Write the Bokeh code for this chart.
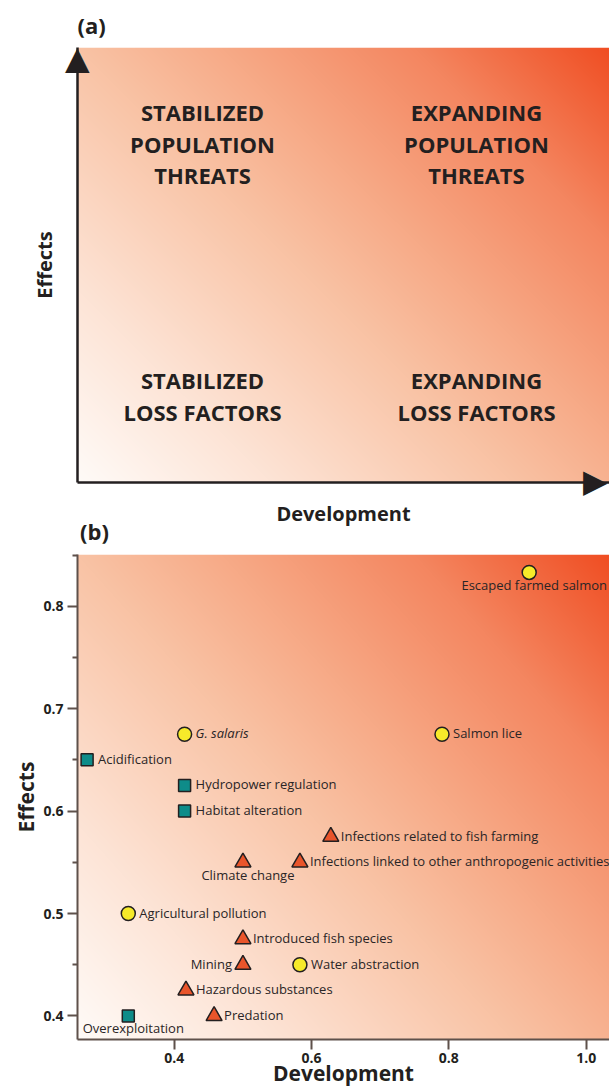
import numpy as np
from bokeh.plotting import figure
from bokeh.models import ColumnDataSource, Range1d, FixedTicker, LinearAxis
from bokeh.layouts import column
from bokeh.embed import file_html
from bokeh.resources import INLINE
from bokeh.core.properties import value

# ---------------- data (panel b) ----------------
threats = ["Escaped farmed salmon", "Salmon lice", "G. salaris", "Acidification",
           "Hydropower regulation", "Habitat alteration", "Infections related to fish farming",
           "Infections linked to other anthropogenic activities", "Climate change",
           "Agricultural pollution", "Introduced fish species", "Mining", "Water abstraction",
           "Hazardous substances", "Predation", "Overexploitation"]
development = [0.917, 0.790, 0.415, 0.273, 0.415, 0.415, 0.628, 0.583, 0.500,
               0.333, 0.500, 0.500, 0.583, 0.417, 0.458, 0.333]
effects = [0.833, 0.675, 0.675, 0.650, 0.625, 0.600, 0.575, 0.550, 0.550,
           0.500, 0.475, 0.450, 0.450, 0.425, 0.400, 0.400]
group = ["circle", "circle", "circle", "square", "square", "square", "triangle", "triangle",
         "triangle", "circle", "triangle", "triangle", "circle", "triangle", "triangle", "square"]
label_side = ["below", "right", "right", "right", "right", "right", "right", "right", "below",
              "right", "right", "left", "right", "right", "right", "below"]
italic_names = ["G. salaris"]

x_ticks = [0.4, 0.6, 0.8, 1.0]
x_tick_labels = ["0.4", "0.6", "0.8", "1.0"]
y_ticks = [0.4, 0.5, 0.6, 0.7, 0.8]
y_tick_labels = ["0.4", "0.5", "0.6", "0.7", "0.8"]
y_minor_ticks = [0.45, 0.55, 0.65, 0.75, 0.85]

# ---------------- texts (panel a) ----------------
quad_top_left = ["STABILIZED", "POPULATION", "THREATS"]
quad_top_right = ["EXPANDING", "POPULATION", "THREATS"]
quad_bottom_left = ["STABILIZED", "LOSS FACTORS"]
quad_bottom_right = ["EXPANDING", "LOSS FACTORS"]

INK = "#231f20"
AXIS = "#5e514b"
FONT = "Open Sans"
marker_fill = {"circle": "#f6ea2a", "square": "#0e8c89", "triangle": "#e9552b"}
marker_size = {"circle": 14, "square": 12, "triangle": 16}

# background gradient colour stops (white -> vermilion)
stop_t = [0.0, 0.2, 0.45, 0.6, 0.8, 1.0]
stop_rgb = [(255, 251, 248), (253, 228, 214), (249, 195, 165),
            (247, 170, 135), (244, 134, 96), (240, 78, 35)]


def gradient_rgba(nx, ny, wx=0.55):
    u = np.linspace(0, 1, nx)[None, :]
    v = np.linspace(0, 1, ny)[:, None]
    t = wx * u + (1 - wx) * v
    img = np.empty((ny, nx, 4), dtype=np.uint8)
    arr = np.array(stop_rgb, float)
    for c in range(3):
        img[..., c] = np.clip(np.interp(t, stop_t, arr[:, c]), 0, 255).astype(np.uint8)
    img[..., 3] = 255
    return img.view(np.uint32).reshape(ny, nx)


# ================= panel (a) =================
pa = figure(width=609, height=554, output_backend="svg", toolbar_location=None,
            x_range=Range1d(0, 1), y_range=Range1d(0, 1))
pa.min_border_left = 77
pa.min_border_right = 0
pa.min_border_top = 47
pa.min_border_bottom = 72
pa.grid.visible = False
pa.outline_line_color = None
pa.background_fill_color = "white"
pa.border_fill_color = "white"
pa.title.text = "(a)"
pa.title.align = "left"
pa.title.text_font = FONT
pa.title.text_font_size = "22px"
pa.title.text_font_style = "bold"
pa.title.text_color = INK
pa.title.standoff = 15
pa.title.offset = 0

# axis lines act as the arrow shafts; arrow heads are tick labels centred on the lines
head_y = 0.9759
head_x = 0.9803
pa.yaxis.ticker = FixedTicker(ticks=[head_y])
pa.yaxis.major_label_overrides = {head_y: "\u25b2"}
pa.yaxis.major_label_standoff = -12
pa.xaxis.ticker = FixedTicker(ticks=[head_x])
pa.xaxis.major_label_overrides = {head_x: "\u25b6"}
pa.xaxis.major_label_standoff = -21
for ax in pa.axis:
    ax.axis_line_color = INK
    ax.axis_line_width = 2.5
    ax.major_tick_line_color = None
    ax.minor_tick_line_color = None
    ax.major_tick_out = 0
    ax.major_tick_in = 0
    ax.major_label_text_font = "DejaVu Sans"
    ax.major_label_text_font_size = "32px"
    ax.major_label_text_color = INK
    ax.axis_label_text_font = FONT
    ax.axis_label_text_font_style = "bold"
    ax.axis_label_text_color = INK
    ax.axis_label_text_font_size = "20px"
pa.xaxis.axis_label = "Development"
pa.xaxis.axis_label_standoff = -3
pa.yaxis.axis_label = "Effects"
pa.yaxis.axis_label_standoff = 4

# panel label "(b)" sits in the gap between the panels
b_pos = 0.032
b_axis = LinearAxis(ticker=FixedTicker(ticks=[b_pos]), major_label_overrides={b_pos: "(b)"},
                    axis_line_color=None, major_tick_line_color=None,
                    minor_tick_line_color=None, major_tick_out=0, major_tick_in=0,
                    major_label_standoff=-14, major_label_text_font=FONT,
                    major_label_text_font_size="22px", major_label_text_font_style="bold",
                    major_label_text_color=INK)
pa.add_layout(b_axis, "below")

pa.image_rgba(image=[gradient_rgba(532, 435)], x=0, y=0, dw=1, dh=1)

qa = dict(text=[], x=[], y=[])
for lines, xc, ys in [(quad_top_left, 0.235, [0.8506, 0.7793, 0.7069]),
                      (quad_top_right, 0.75, [0.8506, 0.7793, 0.7069]),
                      (quad_bottom_left, 0.235, [0.2345, 0.1632]),
                      (quad_bottom_right, 0.75, [0.2345, 0.1632])]:
    for ln, yy in zip(lines, ys):
        qa["text"].append(ln)
        qa["x"].append(xc)
        qa["y"].append(yy)
pa.text(x="x", y="y", text="text", source=ColumnDataSource(qa),
        text_font=value(FONT), text_font_size="22px", text_font_style="bold",
        text_color=INK, text_align="center", text_baseline="alphabetic")

# ================= panel (b) =================
x0, x1 = 0.259, 1.034
y0, y1 = 0.377, 0.8505
pb = figure(width=609, height=538, output_backend="svg", toolbar_location=None, title=None,
            x_range=Range1d(x0, x1), y_range=Range1d(y0, y1))
pb.min_border_left = 77
pb.min_border_right = 0
pb.min_border_top = 0
pb.min_border_bottom = 53
pb.grid.visible = False
pb.outline_line_color = None
pb.background_fill_color = "white"
pb.border_fill_color = "white"

pb.image_rgba(image=[gradient_rgba(532, 485)], x=x0, y=y0, dw=x1 - x0, dh=y1 - y0)

pb.xaxis.ticker = FixedTicker(ticks=x_ticks)
pb.xaxis.major_label_overrides = dict(zip(x_ticks, x_tick_labels))
pb.yaxis.ticker = FixedTicker(ticks=y_ticks, minor_ticks=y_minor_ticks)
pb.yaxis.major_label_overrides = dict(zip(y_ticks, y_tick_labels))
for ax in pb.axis:
    ax.axis_line_color = AXIS
    ax.axis_line_width = 2
    ax.major_tick_line_color = AXIS
    ax.major_tick_line_width = 2
    ax.major_tick_out = 10
    ax.major_tick_in = 0
    ax.minor_tick_line_color = AXIS
    ax.minor_tick_line_width = 2
    ax.minor_tick_out = 5
    ax.minor_tick_in = 0
    ax.major_label_text_font = FONT
    ax.major_label_text_font_size = "14px"
    ax.major_label_text_font_style = "bold"
    ax.major_label_text_color = INK
    ax.axis_label_text_font = FONT
    ax.axis_label_text_font_style = "bold"
    ax.axis_label_text_font_size = "21px"
    ax.axis_label_text_color = INK
pb.xaxis.minor_tick_line_color = None
pb.yaxis.major_label_standoff = 4
pb.xaxis.major_label_standoff = 3
pb.xaxis.axis_label = "Development"
pb.xaxis.axis_label_standoff = -7
pb.yaxis.axis_label = "Effects"
pb.yaxis.axis_label_standoff = 0

for g in ["square", "circle", "triangle"]:
    idx = [i for i, k in enumerate(group) if k == g]
    src = ColumnDataSource(dict(x=[development[i] for i in idx], y=[effects[i] for i in idx]))
    pb.scatter(x="x", y="y", source=src, marker=g, size=marker_size[g],
               fill_color=marker_fill[g], line_color=INK, line_width=1.5)

lab = dict(x=[], y=[], text=[], xo=[], yo=[], align=[], style=[])
for name, xv, yv, g, side in zip(threats, development, effects, group, label_side):
    if side == "right":
        xo, yo, al = (10 if g == "triangle" else 11), -1, "left"
    elif side == "left":
        xo, yo, al = -11, -1, "right"
    else:
        xo, yo, al = 5, 12.5, "center"
    lab["x"].append(xv)
    lab["y"].append(yv)
    lab["text"].append(name)
    lab["xo"].append(xo)
    lab["yo"].append(yo)
    lab["align"].append(al)
    lab["style"].append("italic" if name in italic_names else "normal")
pb.text(x="x", y="y", text="text", source=ColumnDataSource(lab), x_offset="xo", y_offset="yo",
        text_align="align", text_baseline="alphabetic", text_font=value(FONT),
        text_font_size="13px", text_font_style="style", text_color="#2a2526")

layout = column(pa, pb)
open("out.html", "w").write(file_html(layout, INLINE))
